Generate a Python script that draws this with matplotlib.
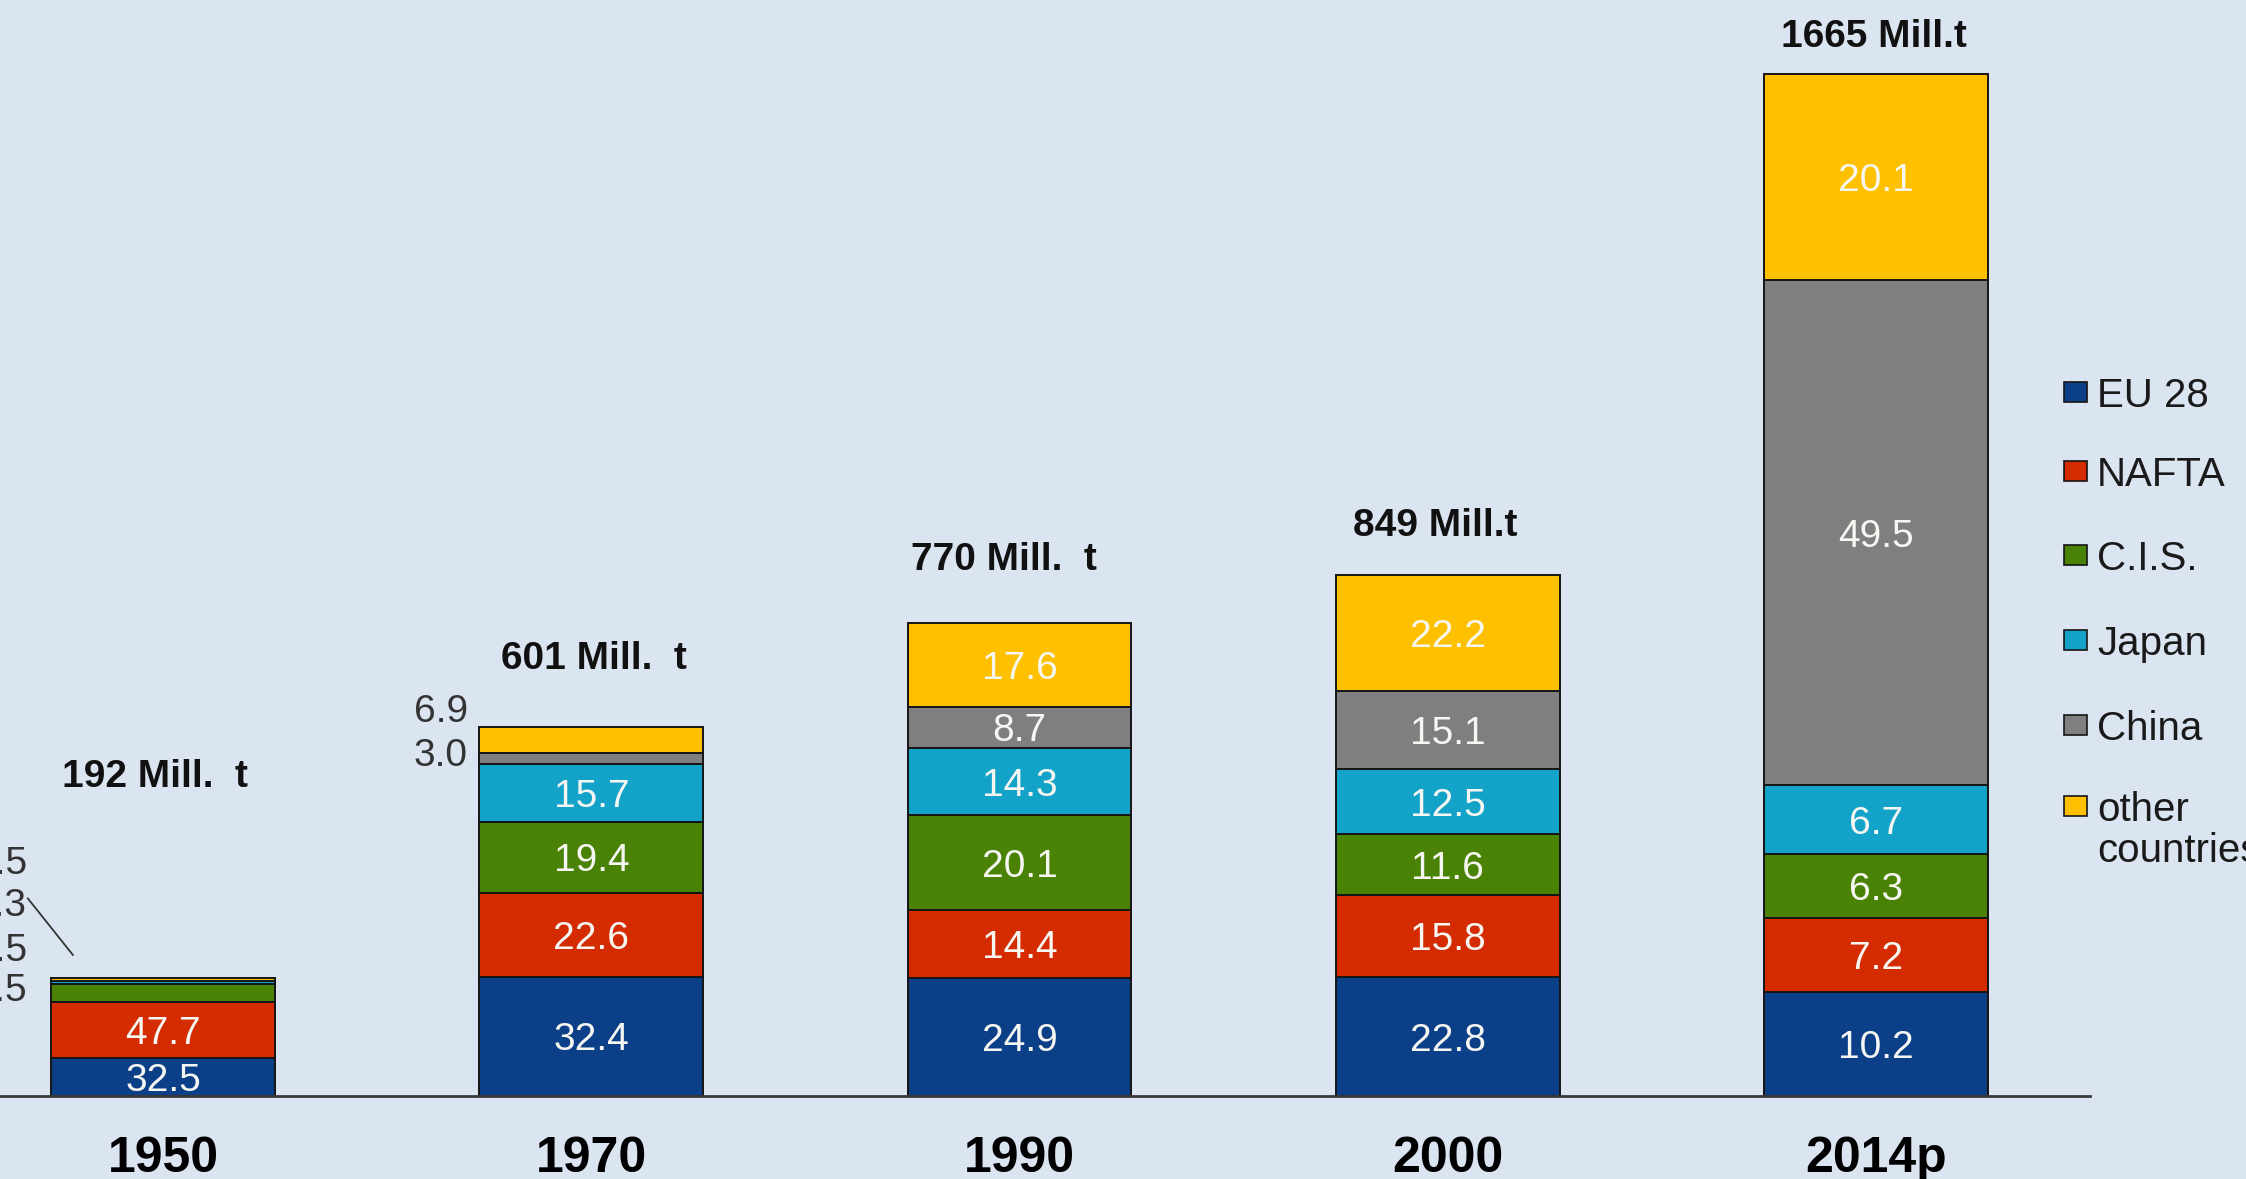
import matplotlib
matplotlib.use('Agg')
import matplotlib.pyplot as plt
from matplotlib.patches import Rectangle

plt.rcParams['font.family'] = ['Liberation Sans', 'DejaVu Sans']

# crude steel production, shares of world total in %
years = ['1950', '1970', '1990', '2000', '2014p']
totals = [192, 601, 770, 849, 1665]
total_labels = ['192 Mill.  t', '601 Mill.  t', '770 Mill.  t', '849 Mill.t', '1665 Mill.t']
regions = ['EU 28', 'NAFTA', 'C.I.S.', 'Japan', 'China', 'other\ncountries']
eu28 = [32.5, 32.4, 24.9, 22.8, 10.2]
nafta = [47.7, 22.6, 14.4, 15.8, 7.2]
cis = [14.5, 19.4, 20.1, 11.6, 6.3]
japan = [2.5, 15.7, 14.3, 12.5, 6.7]
china = [0.3, 3.0, 8.7, 15.1, 49.5]
others = [2.5, 6.9, 17.6, 22.2, 20.1]
shares = [eu28, nafta, cis, japan, china, others]

colors = ['#0b3f87', '#d42b00', '#4a8206', '#14a3c8', '#7f7f7f', '#ffc000']
bg = '#dbe4f1'

W, H = 2246, 1179
fig = plt.figure(figsize=(W / 100, H / 100), dpi=100)
fig.patch.set_facecolor(bg)
ax = fig.add_axes([0, 83 / H, 2090 / W, 1096 / H])
ax.set_facecolor(bg)
ax.set_xlim(-0.381, 4.5)
ax.set_ylim(0, 1786)

x = list(range(len(years)))
bottoms = [0.0] * len(years)
small_labels = {}  # bar index -> share texts too thin to go inside
for r in range(len(regions)):
    heights = [totals[i] * shares[r][i] / 100 for i in x]
    ax.bar(x, heights, width=0.523, bottom=bottoms, color=colors[r],
           edgecolor='#151515', linewidth=1.4, zorder=2)
    for i in x:
        txt = '%.1f' % shares[r][i]
        if heights[i] > 50:
            ax.text(i, bottoms[i] + heights[i] / 2, txt, ha='center',
                    va='center_baseline', fontsize=28, color='#f6f6f2', zorder=3)
        else:
            small_labels.setdefault(i, []).append(txt)
    bottoms = [bottoms[i] + heights[i] for i in x]

# labels of thin segments, left of the bars
outside_pos = {0: (-0.318, [178, 243, 316, 385]), 1: (0.712, [561, 632])}
for i, (xp, ys) in outside_pos.items():
    labs = small_labels[i]
    for txt, yp in zip(labs[-len(ys):], ys):
        ax.text(xp, yp, txt, ha='right', va='center_baseline', fontsize=28,
                color='#333333', clip_on=False)
ax.plot([-0.316, -0.211], [322, 230], color='#333333', lw=1.3, clip_on=False)

# total production above the bars
label_offsets = [(-8, 205), (3, 72), (-16, 67), (-12, 53), (-2, 41)]
for i in x:
    ax.annotate(total_labels[i], (i, totals[i]), xytext=label_offsets[i],
                textcoords='offset pixels', ha='center', va='center_baseline',
                fontsize=28, fontweight='bold', color='#111111',
                annotation_clip=False)

ax.set_xticks(x)
ax.set_xticklabels(years, fontsize=36, fontweight='bold')
ax.tick_params(axis='x', length=0, pad=29)
ax.set_yticks([])
for s in ['top', 'left', 'right']:
    ax.spines[s].set_visible(False)
ax.spines['bottom'].set_color('#3a3a3a')
ax.spines['bottom'].set_linewidth(2)

# legend drawn by hand, squares next to the first text line
leg_y = [392, 471, 555, 640, 725, 806]
for r in range(len(regions)):
    yc = 1 - leg_y[r] / H
    fig.patches.append(Rectangle((2064 / W, yc - 10 / H), 23 / W, 20 / H,
                                 transform=fig.transFigure, facecolor=colors[r],
                                 edgecolor='#151515', linewidth=1.2))
    lines = regions[r].split('\n')
    for k, line in enumerate(lines):
        fig.text(2097 / W, yc - k * 41 / H, line, ha='left', va='center_baseline',
                 fontsize=29, color='#1a1a1a')

fig.savefig('out.png', dpi=100, facecolor=bg)
